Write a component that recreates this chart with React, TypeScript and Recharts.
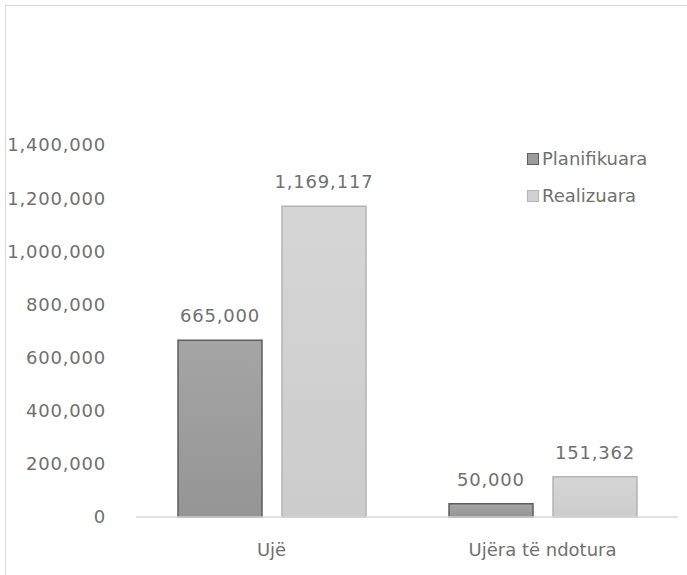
import { BarChart, Bar, XAxis, YAxis, LabelList } from "recharts"

const categories = ["Ujë", "Ujëra të ndotura"]
const planifikuara = [665000, 50000]
const realizuara = [1169117, 151362]
const yTicks = [0, 200000, 400000, 600000, 800000, 1000000, 1200000, 1400000]

const data = categories.map((name, i) => ({
  name,
  Planifikuara: planifikuara[i],
  Realizuara: realizuara[i],
}))

const font = "'DejaVu Sans', sans-serif"
const textColor = "#707070"
const fmt = (v: number) => v.toLocaleString("en-US")
// numbers in the original are a little wider than DejaVu's
const numStyle = { fill: textColor, fontSize: 18, fontFamily: font, letterSpacing: 0.8 }

const legendItems = [
  { label: "Planifikuara", fill: "#9c9c9c", stroke: "#5e5e5e" },
  { label: "Realizuara", fill: "#d1d1d1", stroke: "#b4b4b4" },
]

// legend sits over the plot, top right, like in the original
const LegendBox = () => (
  <div style={{ position: "absolute", left: 527, top: 140, fontFamily: font, fontSize: 18, color: textColor }}>
    {legendItems.map((it) => (
      <div key={it.label} style={{ display: "flex", alignItems: "center", height: 37 }}>
        <span
          style={{
            display: "inline-block",
            width: 10,
            height: 10,
            background: it.fill,
            border: `1.5px solid ${it.stroke}`,
            marginRight: 3,
          }}
        />
        {it.label}
      </div>
    ))}
  </div>
)

export default function App() {
  return (
    <div style={{ position: "absolute", left: 0, top: 0, width: 687, height: 575, overflow: "hidden", background: "#fff" }}>
      {/* frame */}
      <div
        style={{
          position: "absolute",
          left: 5,
          top: 5,
          width: 700,
          height: 600,
          borderTop: "1.5px solid #d9d9d9",
          borderLeft: "1.5px solid #d9d9d9",
        }}
      />
      <BarChart
        width={687}
        height={575}
        data={data}
        margin={{ top: 145, right: 9, left: 0, bottom: 0 }}
        barGap={20}
        style={{ position: "absolute", left: 0, top: 0 }}
      >
        <defs>
          <linearGradient id="gPlan" x1="0" y1="0" x2="0" y2="1">
            <stop offset="0%" stopColor="#a5a5a5" />
            <stop offset="100%" stopColor="#959595" />
          </linearGradient>
          <linearGradient id="gReal" x1="0" y1="0" x2="0" y2="1">
            <stop offset="0%" stopColor="#d6d6d6" />
            <stop offset="100%" stopColor="#cccccc" />
          </linearGradient>
        </defs>
        <XAxis
          dataKey="name"
          height={58}
          axisLine={{ stroke: "#d9d9d9", strokeWidth: 1.5 }}
          tickLine={false}
          tickSize={0}
          tickMargin={26}
          tick={{ fill: textColor, fontSize: 18, fontFamily: font }}
        />
        <YAxis
          width={136}
          domain={[0, 1400000]}
          ticks={yTicks}
          interval={0}
          axisLine={false}
          tickLine={false}
          tickSize={0}
          tickMargin={30}
          tickFormatter={fmt}
          tick={numStyle}
        />
        <Bar
          dataKey="Planifikuara"
          barSize={84}
          fill="url(#gPlan)"
          stroke="#5e5e5e"
          strokeWidth={1.5}
          isAnimationActive={false}
        >
          <LabelList
            dataKey="Planifikuara"
            position="top"
            offset={18}
            formatter={(v: any) => fmt(Number(v))}
            style={numStyle}
          />
        </Bar>
        <Bar
          dataKey="Realizuara"
          barSize={84}
          fill="url(#gReal)"
          stroke="#b4b4b4"
          strokeWidth={1.5}
          isAnimationActive={false}
        >
          <LabelList
            dataKey="Realizuara"
            position="top"
            offset={18}
            formatter={(v: any) => fmt(Number(v))}
            style={numStyle}
          />
        </Bar>
      </BarChart>
      <LegendBox />
    </div>
  )
}
